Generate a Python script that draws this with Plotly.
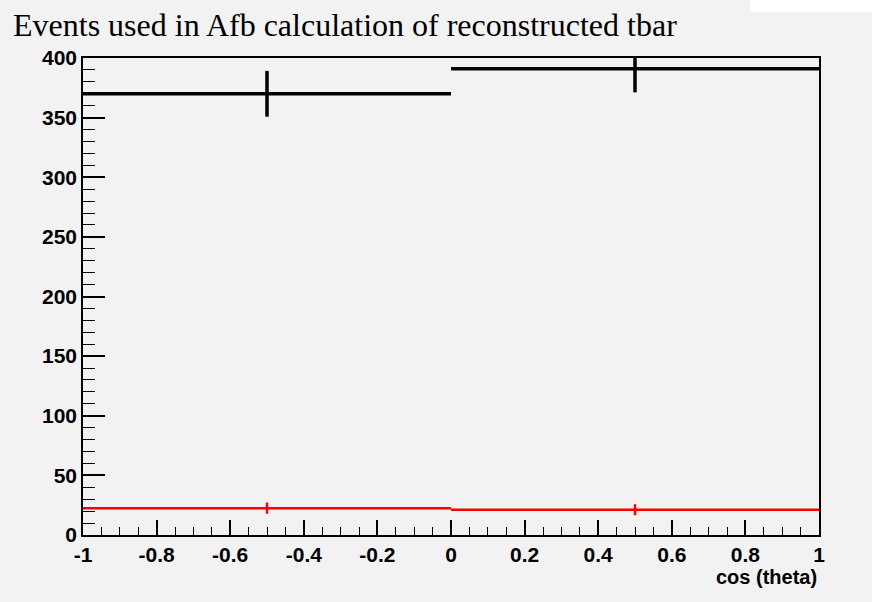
import plotly.graph_objects as go

# Data
bin_centers = [-0.5, 0.5]
bin_half_widths = [0.5, 0.5]
black_counts = [370, 391]
black_errors = [19.2, 19.8]
red_counts = [22.5, 21.2]
red_errors = [4.7, 4.6]

x_tick_vals = [-1, -0.8, -0.6, -0.4, -0.2, 0, 0.2, 0.4, 0.6, 0.8, 1]
x_tick_text = ["-1", "-0.8", "-0.6", "-0.4", "-0.2", "0", "0.2", "0.4", "0.6", "0.8", "1"]
y_tick_vals = [0, 50, 100, 150, 200, 250, 300, 350, 400]
y_tick_text = ["0", "50", "100", "150", "200", "250", "300", "350", "400"]

title_text = "Events used in Afb calculation of reconstructed tbar"
x_title = "cos (theta)"

BG = "#f2f2f2"

fig = go.Figure()
fig.add_trace(go.Scatter(
    x=bin_centers, y=black_counts, mode="markers",
    marker=dict(size=1, color="black"),
    error_x=dict(type="data", array=bin_half_widths, width=0, thickness=3.5, color="black"),
    error_y=dict(type="data", array=black_errors, width=0, thickness=3.5, color="black"),
    showlegend=False, hoverinfo="x+y"))
fig.add_trace(go.Scatter(
    x=bin_centers, y=red_counts, mode="markers",
    marker=dict(size=1, color="red"),
    error_x=dict(type="data", array=bin_half_widths, width=0, thickness=2.5, color="red"),
    error_y=dict(type="data", array=red_errors, width=0, thickness=2.5, color="red"),
    showlegend=False, hoverinfo="x+y"))

tickfont = dict(family="Liberation Sans", size=21, color="black")

fig.update_layout(
    width=872, height=602,
    margin=dict(l=83, r=53, t=58, b=67),
    paper_bgcolor=BG, plot_bgcolor=BG,
    showlegend=False,
    xaxis=dict(range=[-1, 1], showgrid=False, zeroline=False,
               showline=True, linecolor="black", linewidth=1.5, mirror=True,
               ticks="inside", ticklen=15, tickwidth=1.5, tickcolor="black",
               tickmode="array", tickvals=x_tick_vals,
               ticktext=["<b>" + t + "</b>" for t in x_tick_text], tickfont=tickfont,
               minor=dict(ticks="inside", ticklen=8, dtick=0.05, tick0=-1,
                          tickcolor="black", tickwidth=1.2)),
    yaxis=dict(range=[0, 400], showgrid=False, zeroline=False,
               showline=True, linecolor="black", linewidth=1.5, mirror=True,
               ticks="inside", ticklen=22, tickwidth=1.5, tickcolor="black",
               tickmode="array", tickvals=y_tick_vals,
               ticktext=["<b>" + t + "</b>" for t in y_tick_text], tickfont=tickfont,
               minor=dict(ticks="inside", ticklen=12, dtick=10, tick0=0,
                          tickcolor="black", tickwidth=1.2)),
    annotations=[
        dict(text=title_text, xref="paper", yref="paper", x=-83/736, y=1 + 58/477,
             xanchor="left", yanchor="top", showarrow=False, xshift=11, yshift=-5,
             font=dict(family="Liberation Serif", size=32, color="black")),
        dict(text="<b>" + x_title + "</b>", xref="paper", yref="paper", x=1, y=0,
             xanchor="right", yanchor="top", showarrow=False, yshift=-29,
             font=dict(family="Liberation Sans", size=20, color="black")),
    ],
    shapes=[dict(type="rect", xref="paper", yref="paper",
                 x0=(750 - 83) / 736, x1=(872 - 83) / 736,
                 y0=1 + (58 - 12) / 477, y1=1 + 58 / 477,
                 fillcolor="white", line=dict(width=0), layer="above")],
)

fig.write_html("out.html")
